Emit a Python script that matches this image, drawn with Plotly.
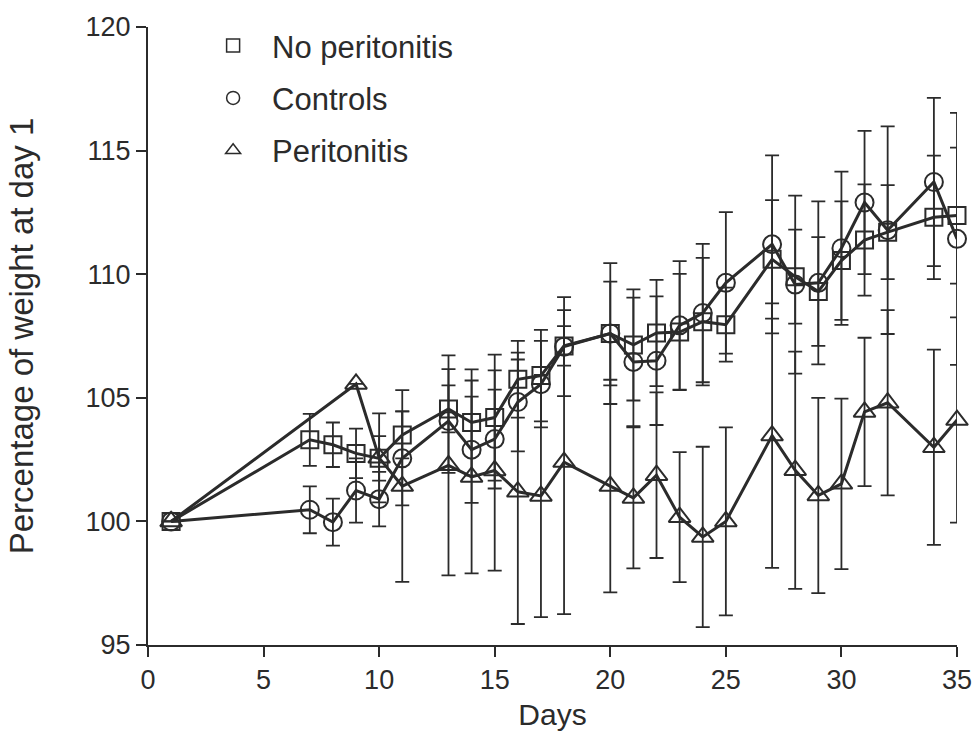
import plotly.graph_objects as go

# ---------------- data ----------------
days_sq = [1, 7, 8, 9, 10, 11, 13, 14, 15, 16, 17, 18, 20, 21, 22, 23, 24, 25, 27, 28, 29, 30, 31, 32, 34, 35]
no_peritonitis = [100, 103.3, 103.1, 102.75, 102.55, 103.5, 104.55, 104.0, 104.2, 105.75, 105.9, 107.1, 107.6,
                  107.14, 107.62, 107.66, 108.08, 107.96, 110.6, 109.9, 109.3, 110.55, 111.38, 111.7, 112.3, 112.37]
no_peritonitis_err = [0, 1.05, 0.9, 1.0, 0.9, 0.95, 0.95, 2.15, 2.55, 1.55, 1.85, 0.8, 2.85,
                      2.25, 2.15, 2.35, 2.58, 1.5, 2.4, 1.9, 2.2, 2.4, 2.25, 1.9, 2.5, 2.75]

days_ci = [1, 7, 8, 9, 10, 11, 13, 14, 15, 16, 17, 18, 20, 21, 22, 23, 24, 25, 27, 28, 29, 30, 31, 32, 34, 35]
controls = [100, 100.47, 99.97, 101.25, 100.9, 102.55, 104.06, 102.9, 103.33, 104.83, 105.55, 107.07, 107.6,
            106.45, 106.5, 107.93, 108.43, 109.65, 111.21, 109.58, 109.65, 111.05, 112.9, 111.78, 113.73, 111.43]
controls_err = [0, 0.95, 0.95, 1.3, 1.1, 1.9, 2.1, 2.15, 2.0, 2.0, 1.75, 2.0, 2.1,
                2.6, 2.6, 2.6, 2.8, 2.86, 3.6, 3.6, 3.3, 3.1, 2.9, 4.2, 3.4, 5.1]

days_tr = [1, 9, 10, 11, 13, 14, 15, 16, 17, 18, 20, 21, 22, 23, 24, 25, 27, 28, 29, 30, 31, 32, 34, 35]
peritonitis = [100, 105.56, 102.57, 101.43, 102.27, 101.8, 102.06, 101.2, 101.03, 102.4, 101.43, 100.95,
               101.87, 100.17, 99.37, 100.0, 103.47, 102.07, 101.05, 101.52, 104.43, 104.8, 103.0, 104.1]
peritonitis_err = [0, 0, 1.8, 3.88, 4.45, 3.9, 4.05, 5.35, 4.9, 6.15, 4.3, 2.85,
                   3.35, 2.63, 3.65, 3.8, 5.35, 4.8, 3.95, 3.45, 3.0, 3.75, 3.95, 4.15]

series_names = ["No peritonitis", "Controls", "Peritonitis"]
x_ticks = [0, 5, 10, 15, 20, 25, 30, 35]
y_ticks = [95, 100, 105, 110, 115, 120]

INK = "#2b2b2b"
FONT = "Liberation Sans, Arial, Helvetica, sans-serif"

fig = go.Figure()

def add_series(x, y, err, symbol, size):
    fig.add_trace(go.Scatter(
        x=x, y=y, mode="lines+markers", showlegend=False, cliponaxis=False,
        line=dict(color=INK, width=3),
        marker=dict(symbol=symbol, size=size, color=INK, line=dict(color=INK, width=2)),
        error_y=dict(type="data", array=err, visible=True, color=INK, thickness=1.8, width=7),
    ))

add_series(days_tr, peritonitis, peritonitis_err, "triangle-up-open", 19)
add_series(days_ci, controls, controls_err, "circle-open", 18)
add_series(days_sq, no_peritonitis, no_peritonitis_err, "square-open", 17)

# legend entries (markers only)
for name, sym, grp in zip(series_names, ["square-open", "circle-open", "triangle-up-open"], ["a", "b", "c"]):
    fig.add_trace(go.Scatter(
        x=[None], y=[None], mode="markers", name=name, legendgroup=grp,
        marker=dict(symbol=sym, size=13, color=INK, line=dict(color=INK, width=1.5)),
    ))

fig.update_layout(
    width=977, height=744,
    margin=dict(l=148, r=20, t=27, b=99),
    paper_bgcolor="white", plot_bgcolor="white",
    font=dict(family=FONT, size=27, color=INK),
    showlegend=True,
    legend=dict(x=0.057, y=1.013, xanchor="left", yanchor="top", bgcolor="rgba(0,0,0,0)",
                font=dict(size=31, color=INK), tracegroupgap=9, itemwidth=68),
    xaxis=dict(range=[0, 35], tickvals=x_ticks, ticktext=[str(v) for v in x_ticks],
               showline=True, linecolor=INK, linewidth=2, ticks="outside", ticklen=10,
               tickwidth=2, tickcolor=INK, showgrid=False, zeroline=False, automargin=False,
               tickfont=dict(size=27),
               title=dict(text="Days", standoff=10, font=dict(size=30))),
    yaxis=dict(range=[95, 120], tickvals=y_ticks, ticktext=[str(v) for v in y_ticks],
               showline=True, linecolor=INK, linewidth=2, ticks="outside", ticklen=10,
               tickwidth=2, tickcolor=INK, showgrid=False, zeroline=False, automargin=False,
               tickfont=dict(size=27),
               title=dict(text="Percentage of weight at day 1", standoff=42, font=dict(size=33))),
)

fig.write_html("out.html", config={"displayModeBar": False},
               post_script="document.body.style.margin='0';")
